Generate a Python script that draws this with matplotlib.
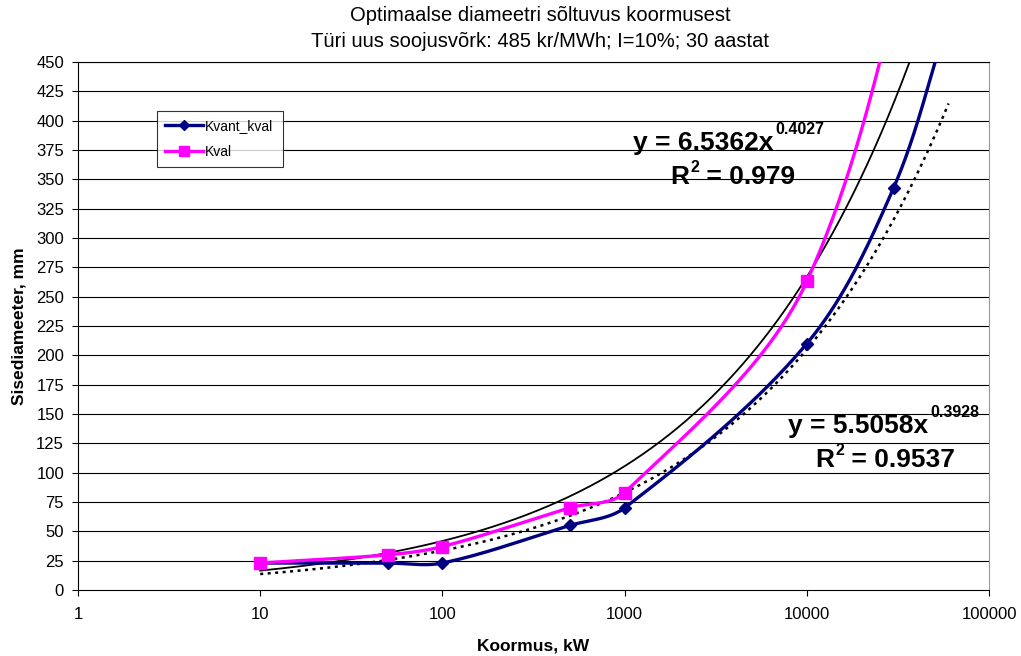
import numpy as np
import matplotlib
matplotlib.use("Agg")
import matplotlib.pyplot as plt
from matplotlib.lines import Line2D

plt.rcParams['font.family'] = ['Liberation Sans', 'DejaVu Sans']

# ---- data ----
kvant_x = [10, 50, 100, 500, 1000, 10000, 30000, 60000]
kvant_y = [23, 23, 23, 55, 70, 210, 343, 488]
kval_x = [10, 50, 100, 500, 1000, 10000, 60000]
kval_y = [23, 30, 37, 70, 83, 263, 690]
# power trend lines y = a * x^b
kval_fit = (6.5362, 0.4027)
kvant_fit = (5.5058, 0.3928)
kval_eq = ("y = 6.5362x", "0.4027", "R", "2", " = 0.979")
kvant_eq = ("y = 5.5058x", "0.3928", "R", "2", " = 0.9537")
x_ticks = [1, 10, 100, 1000, 10000, 100000]
y_ticks = list(range(0, 451, 25))
series_names = ['Kvant_kval', 'Kval']

title = "Optimaalse diameetri sõltuvus koormusest\nTüri uus soojusvõrk: 485 kr/MWh; I=10%; 30 aastat"

W, H = 1021, 656
PX_DEC = 182.0       # pixels per decade (for smoothing geometry)
PX_UNIT = 528 / 450  # pixels per y unit


def smooth(xs, ys, n=60):
    """Excel-like smoothed line: cubic Bezier segments in screen space."""
    P = np.column_stack([np.log10(np.asarray(xs, float)) * PX_DEC,
                         np.asarray(ys, float) * PX_UNIT])
    m = len(P)
    out = []
    for i in range(m - 1):
        p1, p2 = P[i], P[i + 1]
        p0 = P[i - 1] if i > 0 else p1
        p3 = P[i + 2] if i + 2 < m else p2
        d01 = np.linalg.norm(p1 - p0)
        d12 = np.linalg.norm(p2 - p1)
        d23 = np.linalg.norm(p3 - p2)
        c1 = p1 + (p2 - p0) * (d12 / (d01 + d12)) / 3.0
        c2 = p2 - (p3 - p1) * (d12 / (d12 + d23)) / 3.0
        t = np.linspace(0, 1, n)[:, None]
        seg = ((1 - t) ** 3) * p1 + 3 * ((1 - t) ** 2) * t * c1 \
            + 3 * (1 - t) * t ** 2 * c2 + t ** 3 * p2
        out.append(seg if i == 0 else seg[1:])
    S = np.vstack(out)
    return 10 ** (S[:, 0] / PX_DEC), S[:, 1] / PX_UNIT


fig = plt.figure(figsize=(W / 100, H / 100), dpi=100)
ax = fig.add_axes([78 / W, 66 / H, 911 / W, 528 / H])
ax.set_xscale('log')
ax.set_xlim(1, 100000)
ax.set_ylim(0, 450)

for yv in y_ticks[1:]:
    ax.axhline(yv, color='black', lw=0.8, zorder=1)

# trend lines
tx = np.logspace(1, np.log10(kval_x[-1]), 400)
ax.plot(tx, kval_fit[0] * tx ** kval_fit[1], color='black', lw=1.3, zorder=3)
tx2 = np.logspace(1, np.log10(kvant_x[-1]), 400)
ax.plot(tx2, kvant_fit[0] * tx2 ** kvant_fit[1], color='black', lw=1.8,
        linestyle=(0, (1.2, 1.8)), zorder=3)

# series
sx, sy = smooth(kvant_x, kvant_y)
ax.plot(sx, sy, color='#000080', lw=2.4, zorder=4)
ax.plot(kvant_x, kvant_y, linestyle='none', marker='D', ms=6, color='#000080', zorder=5)
sx, sy = smooth(kval_x, kval_y)
ax.plot(sx, sy, color='#FF00FF', lw=2.4, zorder=4)
ax.plot(kval_x, kval_y, linestyle='none', marker='s', ms=8, color='#FF00FF', zorder=5)

ax.set_xticks(x_ticks)
ax.set_xticklabels([str(v) for v in x_ticks], fontsize=12)
ax.xaxis.set_minor_locator(matplotlib.ticker.NullLocator())
ax.set_yticks(y_ticks)
ax.set_yticklabels([str(v) for v in y_ticks], fontsize=12)
ax.tick_params(axis='both', direction='out', length=4, width=0.8, color='black')
ax.tick_params(axis='x', pad=8)
ax.tick_params(axis='y', pad=6)

for s in ['left', 'bottom', 'top']:
    ax.spines[s].set_color('black')
    ax.spines[s].set_linewidth(0.8)
ax.spines['right'].set_color('#999999')

ax.set_xlabel('Koormus, kW', fontsize=12.5, fontweight='bold', labelpad=12)
ax.set_ylabel('Sisediameeter, mm', fontsize=12.5, fontweight='bold', labelpad=7)

fig.text(540 / W, 1 - 28.5 / H, title, ha='center', va='center', fontsize=14.5,
         linespacing=1.45)

# trend line equations
fig.canvas.draw()
renderer = fig.canvas.get_renderer()


def eq_part(x_px, base_px, s, size):
    t = fig.text(x_px / W, 1 - base_px / H, s, fontsize=size, fontweight='bold',
                 ha='left', va='baseline')
    return t.get_window_extent(renderer).x1


def equation(x1, b1, x2, b2, parts):
    main, sup, r, sup2, rest = parts
    e = eq_part(x1, b1, main, 19)
    eq_part(e + 2, b1 - 16, sup, 11.5)
    e = eq_part(x2, b2, r, 19)
    e = eq_part(e + 1, b2 - 12, sup2, 11.5)
    eq_part(e, b2, rest, 19)


equation(633, 150, 670, 184, kval_eq)
equation(788, 433, 815, 467, kvant_eq)

handles = [Line2D([], [], color='#000080', lw=2.4, marker='D', ms=5),
           Line2D([], [], color='#FF00FF', lw=2.4, marker='s', ms=7)]
leg = fig.legend(handles, series_names, loc='upper left',
                 bbox_to_anchor=(157 / W, 1 - 169 / H, 126 / W, 58 / H), mode='expand',
                 fontsize=10, frameon=True, fancybox=False, edgecolor='black',
                 borderpad=0.55, handlelength=2.75, handletextpad=0.15,
                 labelspacing=0.9, borderaxespad=0)
leg.get_frame().set_linewidth(0.8)
leg.set_zorder(10)

fig.savefig('out.png', dpi=100)
